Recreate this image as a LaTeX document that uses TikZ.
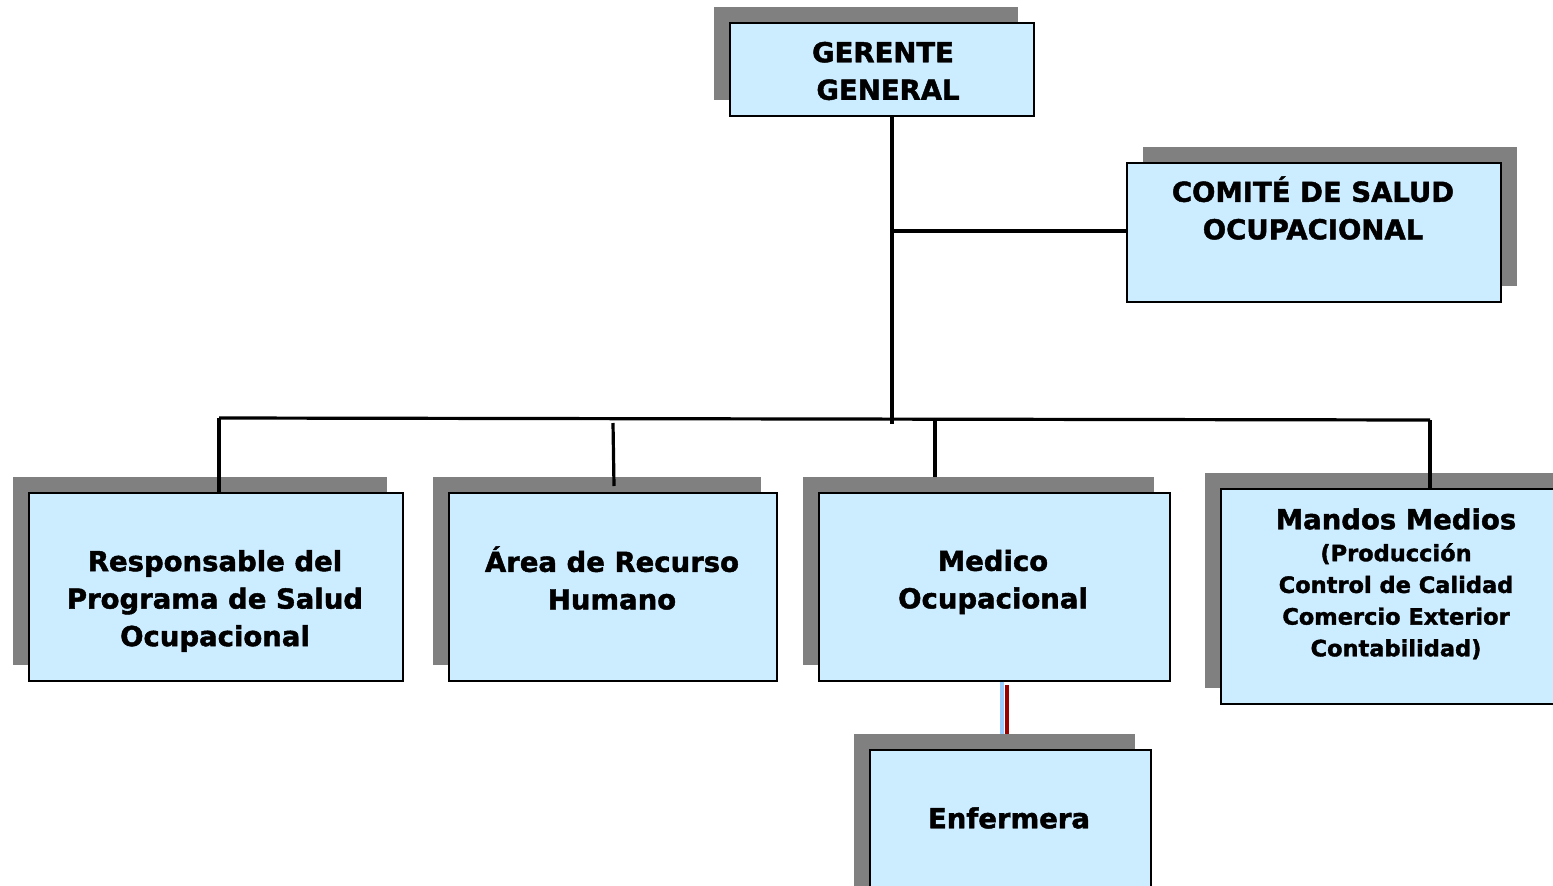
\documentclass[tikz,border=0pt]{standalone}
\usepackage{fontspec}
\setmainfont{DejaVu Sans}
\newfontfamily\heavyfont{DejaVu Sans Bold}[FakeBold=1.6]
\usetikzlibrary{shadows}
\definecolor{boxfill}{RGB}{204,236,255}
\definecolor{shadegray}{RGB}{128,128,128}
\definecolor{linkblue}{RGB}{153,204,255}
\definecolor{linkred}{RGB}{153,0,0}
\begin{document}
\begin{tikzpicture}[x=1pt,y=-1pt,
  orgbox/.style={draw=black, line width=1.6pt, fill=boxfill, rectangle, inner sep=0pt, anchor=north west},
  shadeleft/.style={general shadow={fill=shadegray, shadow xshift=-15.5pt, shadow yshift=15.5pt}},
  shaderight/.style={general shadow={fill=shadegray, shadow xshift=16pt, shadow yshift=15.5pt}},
  boxtext/.style={font=\heavyfont\fontsize{27.5}{37.5}\selectfont, align=center, inner sep=0pt},
  subtext/.style={font=\heavyfont\fontsize{22.5}{31.7}\selectfont, align=center, inner sep=0pt},
  conn/.style={draw=black, line width=3.2pt}]
\useasboundingbox (0,0) rectangle (1553,886);

% boxes
\node[orgbox, shadeleft, minimum width=304pt, minimum height=93pt] (ger) at (729,22) {};
\node[orgbox, shaderight, minimum width=374pt, minimum height=139pt] (com) at (1126,162) {};
\node[orgbox, shadeleft, minimum width=374pt, minimum height=188pt] (resp) at (28,492) {};
\node[orgbox, shadeleft, minimum width=328pt, minimum height=188pt] (rh) at (448,492) {};
\node[orgbox, shadeleft, minimum width=351pt, minimum height=188pt] (med) at (818,492) {};
\node[orgbox, shadeleft, minimum width=352pt, minimum height=215pt] (mandos) at (1220,488) {};
\node[orgbox, shadeleft, minimum width=281pt, minimum height=160pt] (enf) at (869,749) {};

% texts
\node[boxtext] (gert) at (883,71) {GERENTE\\\hspace*{10pt}GENERAL};
\node[boxtext] (comt) at (1313,208) {COMITÉ DE SALUD\\OCUPACIONAL};
\node[boxtext] (respt) at (215,601) {Responsable del\\Programa de Salud\\Ocupacional};
\node[boxtext] (rht) at (612,578) {Área de Recurso\\Humano};
\node[boxtext] (medt) at (993,582) {Medico\\Ocupacional};
\node[boxtext, anchor=center] (mandt) at (1396,519) {Mandos Medios};
\node[subtext, anchor=north] (mandsub) at (1396,543) {(Producción\\Control de Calidad\\Comercio Exterior\\Contabilidad)};
\node[boxtext] (enft) at (1009,818) {Enfermera};

% connectors
\coordinate (busmid) at (892,424);
\coordinate (comjoin) at (892,231);
\coordinate (busl) at (219,418);
\coordinate (busr) at (1430,420);
\coordinate (rhtop) at (613,423);
\coordinate (medtop) at (935,420);
\coordinate (medend) at (935,477);
\coordinate (enfshade) at (1002,734);
\draw[conn] (ger.south -| busmid) -- (busmid);
\draw[conn] (comjoin) -- (com.west |- comjoin);
\draw[conn] (busl) -- (busr);
\draw[conn] (busl) -- (busl |- resp.north);
\draw[conn] (rhtop) -- (614,486);
\draw[conn] (medtop) -- (medend);
\draw[conn] (busr) -- (busr |- mandos.north);
\draw[draw=linkblue, line width=4.5pt] (med.south -| enfshade) -- (enfshade);
\draw[draw=linkred, line width=4pt] (1007,685) -- (1007,734);
\end{tikzpicture}
\end{document}
